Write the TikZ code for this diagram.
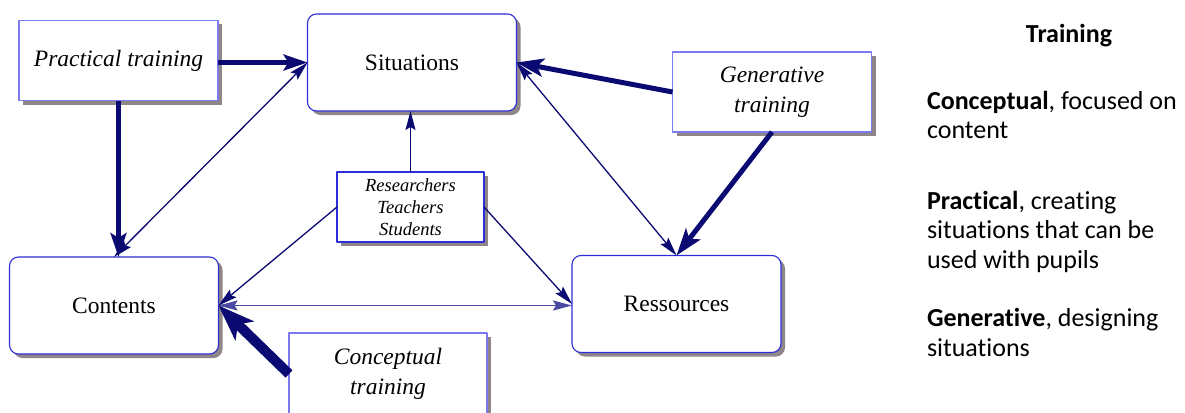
\documentclass[tikz,border=0pt]{standalone}
\usepackage{fontspec}
\setmainfont{Liberation Serif}
\newfontfamily\legendfont[Ligatures=NoCommon]{Carlito}
\usetikzlibrary{arrows.meta,shadows}
\definecolor{poleedge}{HTML}{2E2ED8}
\definecolor{trainedge}{HTML}{7A7AEE}
\definecolor{linknavy}{HTML}{0A0A72}
\definecolor{linkblue}{HTML}{4A4AA2}
\definecolor{boxshadow}{HTML}{8F8787}

\begin{document}
\begin{tikzpicture}[
  x=1pt,
  y=-1pt,
  line join=round,
  every node/.style={inner sep=0pt,outer sep=0pt},
  shade/.style={drop shadow={shadow xshift=4pt,shadow yshift=-4pt,fill=boxshadow,opacity=1}},
  pole/.style={shade,draw=poleedge,line width=1.1pt,fill=white,rounded corners=9pt,
    minimum width=209pt,minimum height=97pt,font=\fontsize{23.5}{28}\selectfont},
  training/.style={shade,draw=trainedge,line width=1.1pt,fill=white,align=center,
    minimum width=199pt,minimum height=80pt,font=\fontsize{23.5}{30}\selectfont\itshape},
  actors/.style={shade,draw=poleedge,line width=1.1pt,fill=white,align=center,
    minimum width=147pt,minimum height=70pt,font=\fontsize{18.5}{22}\selectfont\itshape},
  legendtext/.style={align=left,font=\fontsize{26}{29.5}\selectfont\legendfont},
  thinlink/.style={draw=linknavy,line width=1.3pt,-{Stealth[length=19pt,width=10pt,inset=3pt]}},
  twoway/.style={thinlink,{Stealth[length=19pt,width=10pt,inset=3pt]}-{Stealth[length=19pt,width=10pt,inset=3pt]}},
  practicallink/.style={draw=linknavy,line width=4.3pt,-{Stealth[length=24pt,width=16pt,inset=5pt]}},
  generativelink/.style={draw=linknavy,line width=5pt,-{Stealth[length=27pt,width=18pt,inset=6pt]}},
  conceptuallink/.style={draw=linknavy,line width=10pt,-{Stealth[length=36pt,width=26pt,inset=9pt]}}
]
  % Page frame, the conceptual box runs off the bottom edge.
  \useasboundingbox (0,0) rectangle (1185,412);
  \clip (0,0) rectangle (1185,412);

  % Four poles of the triangle.
  \node[pole] (situations) at (412,62.5) {Situations};
  \node[pole] (contents) at (114,305.5) {Contents};
  \node[pole] (ressources) at (676.5,304) {Ressources};
  \node[actors] (actors) at (410.5,207) {Researchers\\Teachers\\Students};

  % The three kinds of training.
  \node[training] (practical) at (118.5,60.5) {Practical training};
  \node[training] (generative) at (772,92) {Generative\\training};
  \node[training,minimum width=198pt,minimum height=82pt] (conceptual) at (388,374) {Conceptual\\training};

  % Thin links between the poles.
  \draw[twoway] (situations.west) -- (contents.north);
  \draw[twoway] (situations.east) -- (ressources.north);
  \draw[twoway,draw=linkblue,line width=1.8pt] (contents.east) -- (contents.east -| ressources.west);
  \draw[thinlink] (actors.north) -- (actors.north |- situations.south);
  \draw[thinlink] (actors.west) -- (contents.east);
  \draw[thinlink] (actors.east) -- (ressources.west);

  % Thick links from the training boxes.
  \draw[practicallink] (practical.east |- situations.west) -- (situations.west);
  \draw[practicallink] (practical.south) -- (practical.south |- contents.north);
  \draw[generativelink] (generative.west) -- (situations.east);
  \draw[generativelink] (generative.south) -- (ressources.north);
  \draw[conceptuallink] (conceptual.west) -- (contents.east);

  % Legend on the right (base anchor sits on the last line).
  \node[legendtext,font=\fontsize{26}{29.5}\selectfont\legendfont\bfseries,anchor=base] (legtitle) at (1069,43) {Training};
  \node[legendtext,anchor=base west] (legconceptual) at (927,138.5) {\textbf{Conceptual}, focused on\\content};
  \node[legendtext,anchor=base west] (legpractical) at (927,268) {\textbf{Practical}, creating\\situations that can be\\used with pupils};
  \node[legendtext,anchor=base west] (leggenerative) at (927,356) {\textbf{Generative}, designing\\situations};
\end{tikzpicture}
\end{document}
